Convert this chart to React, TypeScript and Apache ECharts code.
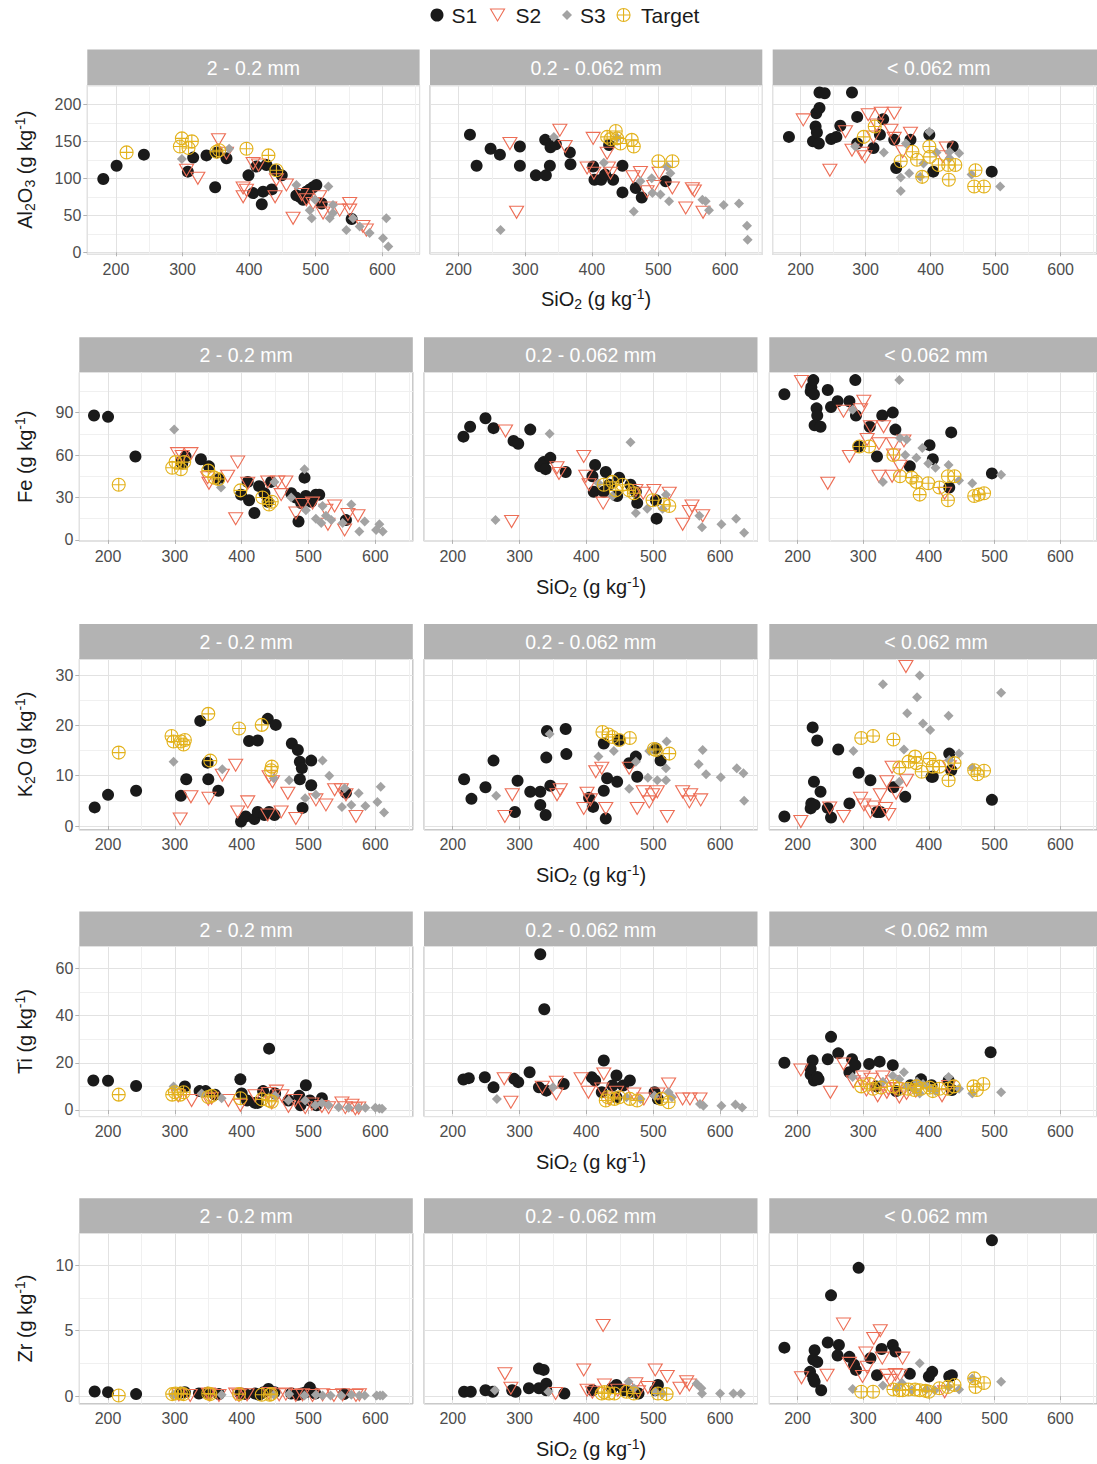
import React, { useEffect, useRef } from 'react';
import * as echarts from 'echarts';

// ---------------- data ----------------
const FRACTIONS = ['2 - 0.2 mm', '0.2 - 0.062 mm', '< 0.062 mm'];
const SERIES_NAMES = ['S1', 'S2', 'S3', 'Target'];
const X_TICK_STEP = 100;

// Al2O3
const AL_C_S1 = [[181,99],[201,117],[242,132],[308,109],[316,128],[336,131],[349,88],[352,135],[366,127],[399,104],[406,80],[411,116],[419,65],[421,82],[426,118],[434,85],[439,111],[449,104],[471,77],[476,75],[481,71],[486,82],[488,80],[491,85],[496,88],[501,91],[509,66],[554,45]];
const AL_C_S2 = [[306,111],[323,100],[354,152],[366,134],[391,87],[391,75],[396,84],[406,120],[414,118],[439,75],[441,98],[456,91],[466,46],[479,78],[486,71],[496,66],[506,75],[511,53],[521,60],[536,57],[551,66],[551,57],[571,35],[576,30]];
const AL_C_S3 = [[299,126],[370,140],[471,91],[491,57],[494,46],[499,71],[519,89],[521,46],[526,64],[526,53],[546,30],[556,46],[566,35],[581,26],[601,19],[606,46],[609,8]];
const AL_C_T = [[216,135],[296,143],[299,154],[309,141],[314,150],[351,136],[355,138],[396,140],[429,131],[441,111]];
const AL_M_S1 = [[217,159],[227,117],[248,140],[262,132],[292,143],[292,117],[316,104],[330,152],[331,104],[337,117],[338,142],[346,146],[367,135],[368,119],[402,116],[404,98],[414,98],[420,105],[426,145],[432,98],[446,117],[446,81],[466,87],[475,74],[511,96]];
const AL_M_S2 = [[277,147],[287,54],[352,165],[360,143],[393,114],[402,154],[403,107],[423,134],[425,114],[428,107],[462,102],[473,108],[483,82],[493,89],[501,107],[521,87],[541,60],[551,86],[554,83],[567,54]];
const AL_M_S3 = [[263,30],[343,156],[418,121],[438,155],[463,55],[473,96],[490,100],[491,80],[503,78],[513,116],[516,69],[518,107],[566,71],[571,69],[576,57],[598,64],[621,66],[633,36],[634,17]];
const AL_M_T = [[423,156],[428,153],[436,164],[438,154],[443,147],[460,152],[463,143],[500,123],[521,123]];
const AL_F_S1 = [[182,156],[219,150],[223,170],[224,188],[225,162],[228,147],[229,195],[229,216],[237,215],[247,153],[255,156],[261,171],[279,216],[287,183],[287,147],[312,141],[322,159],[327,180],[344,152],[347,114],[369,152],[398,159],[404,109],[434,143],[494,109]];
const AL_F_S2 = [[204,179],[245,111],[269,163],[279,138],[294,134],[299,129],[304,186],[312,156],[317,172],[324,188],[339,165],[344,188],[344,154],[357,136],[369,161],[419,129],[424,141]];
const AL_F_S3 = [[284,143],[328,135],[354,101],[354,83],[362,147],[367,107],[384,102],[389,120],[398,163],[409,135],[429,136],[429,127],[444,134],[463,105],[507,89]];
const AL_F_T = [[297,156],[314,170],[354,123],[372,136],[379,125],[387,102],[398,143],[399,129],[412,118],[427,118],[428,98],[438,118],[467,89],[469,111],[482,89]];

// Fe
const FE_C_S1 = [[179,88],[200,87],[241,59],[309,55],[311,54],[316,59],[339,57],[351,52],[366,43],[399,32],[409,41],[411,28],[419,19],[426,38],[434,33],[439,27],[444,41],[474,33],[481,30],[485,13],[489,26],[494,44],[496,31],[504,27],[511,32],[516,32],[556,14]];
const FE_C_S2 = [[304,61],[311,59],[324,61],[349,44],[351,40],[379,45],[391,15],[394,55],[409,40],[439,41],[454,41],[459,32],[466,41],[481,19],[491,25],[506,26],[526,21],[529,11],[539,24],[554,7],[559,18],[574,17]];
const FE_C_S3 = [[299,78],[369,37],[449,41],[474,30],[494,50],[496,21],[511,15],[519,12],[521,24],[526,17],[534,14],[551,12],[564,25],[576,6],[584,13],[601,7],[606,11],[611,6]];
const FE_C_T = [[216,39],[296,51],[301,55],[309,50],[314,55],[350,49],[359,44],[365,43],[398,35],[431,30],[441,25],[445,27]];
const FE_M_S1 = [[216,73],[226,80],[249,86],[261,79],[291,70],[298,68],[316,78],[331,52],[336,55],[339,50],[346,58],[369,48],[409,45],[411,34],[413,53],[426,34],[429,48],[434,39],[446,31],[449,44],[466,39],[474,34],[476,26],[504,28],[505,15]];
const FE_M_S2 = [[279,77],[288,13],[356,51],[359,47],[396,59],[399,45],[404,39],[425,26],[474,35],[485,33],[501,35],[524,33],[544,11],[554,20],[558,24],[574,17]];
const FE_M_S3 = [[264,14],[345,75],[418,40],[439,31],[466,69],[474,19],[491,22],[514,22],[519,32],[569,17],[573,9],[602,11],[624,15],[636,5]];
const FE_M_T = [[426,39],[439,41],[444,35],[454,39],[464,35],[471,33],[499,28],[516,25],[524,24]];
const FE_F_S1 = [[180,103],[220,105],[221,108],[224,113],[225,103],[229,93],[230,88],[226,81],[235,80],[246,106],[251,94],[261,98],[279,98],[288,113],[289,88],[293,66],[310,80],[321,59],[329,88],[345,90],[349,78],[371,52],[401,67],[406,57],[431,37],[434,76],[496,47]];
const FE_F_S2 = [[206,112],[246,40],[270,91],[279,59],[296,92],[301,98],[306,71],[311,80],[324,68],[324,45],[331,80],[344,45],[346,68],[346,60],[356,52],[362,70],[424,33]];
const FE_F_S3 = [[284,92],[330,41],[355,113],[356,72],[364,60],[366,71],[381,58],[390,65],[399,54],[410,51],[430,53],[446,42],[466,40],[510,46]];
const FE_F_T = [[294,66],[309,66],[346,60],[356,45],[374,44],[381,41],[386,32],[399,40],[416,37],[429,45],[429,28],[439,45],[469,31],[476,32],[484,33]];

// K2O
const K_C_S1 = [[180,3.7],[200,6.2],[242,7.0],[309,6.0],[317,9.3],[338,20.9],[349,12.6],[350,9.3],[365,7.0],[399,0.9],[406,1.9],[411,16.9],[419,1.4],[424,17.0],[424,2.8],[434,2.2],[439,21.3],[441,2.8],[449,2.2],[451,20.1],[475,16.4],[484,15.1],[487,12.8],[490,11.5],[487,9.3],[491,3.6],[504,13.0],[504,8.1],[556,6.6]];
const K_C_S2 = [[308,1.4],[324,5.8],[351,5.5],[371,10.1],[391,12.1],[394,2.8],[409,4.8],[439,2.2],[441,9.8],[446,8.8],[459,2.8],[469,6.5],[481,1.5],[511,5.2],[526,4.2],[539,7.2],[549,7.2],[556,6.2],[571,1.9]];
const K_C_S3 = [[298,12.8],[371,11.3],[448,9.5],[471,9.1],[495,5.5],[511,6.2],[521,13.0],[531,10.0],[550,3.8],[554,7.5],[564,4.2],[575,6.5],[585,4.0],[603,4.8],[608,7.8],[613,2.7]];
const K_C_T = [[216,14.6],[295,17.9],[298,16.8],[309,16.8],[313,16.2],[315,17.1],[350,22.3],[353,13.0],[396,19.4],[430,20.1],[444,11.1],[445,11.8]];
const K_M_S1 = [[217,9.3],[228,5.4],[249,7.7],[261,13.0],[293,2.8],[297,9.0],[316,6.8],[331,6.8],[331,4.2],[339,2.2],[340,13.6],[341,18.9],[346,8.0],[369,19.3],[370,14.3],[404,5.6],[410,3.8],[426,16.4],[426,7.0],[429,1.5],[431,9.5],[446,8.8],[449,17.1],[464,12.5],[474,13.8],[476,9.8],[504,15.4],[511,13.0]];
const K_M_S2 = [[278,1.9],[289,6.2],[356,6.2],[361,7.2],[396,3.5],[401,6.5],[406,5.2],[414,10.8],[423,11.5],[429,3.5],[464,11.5],[476,3.5],[485,6.8],[494,4.8],[499,6.2],[506,6.8],[521,1.9],[544,6.8],[554,4.8],[556,6.2],[571,5.2]];
const K_M_S3 = [[265,6.0],[345,18.3],[418,13.8],[441,14.9],[464,7.4],[474,12.8],[492,9.6],[494,14.9],[506,9.1],[519,9.1],[519,11.5],[520,16.8],[568,12.3],[574,15.1],[579,10.3],[601,9.7],[625,11.5],[635,10.5],[636,5.0]];
const K_M_T = [[424,18.7],[433,18.2],[439,17.7],[449,17.1],[465,17.5],[501,15.3],[504,15.1],[524,14.4]];
const K_F_S1 = [[180,1.9],[220,3.5],[221,4.5],[223,19.6],[225,8.8],[226,4.2],[230,17.0],[235,6.8],[246,3.6],[251,1.7],[262,15.2],[279,4.5],[293,10.6],[311,9.1],[321,2.8],[326,2.8],[346,7.7],[364,5.8],[404,9.8],[406,9.8],[431,14.4],[434,11.1],[496,5.2]];
const K_F_S2 = [[205,0.9],[249,3.6],[270,1.9],[296,5.5],[301,4.2],[311,2.8],[316,3.8],[326,6.2],[334,3.5],[336,8.8],[339,2.3],[344,11.7],[350,6.5],[365,31.7],[366,9.1],[431,11.8]];
const K_F_S3 = [[285,14.9],[330,28.2],[355,8.8],[362,15.2],[367,22.4],[382,25.6],[386,29.9],[391,20.4],[402,19.1],[430,21.9],[431,13.1],[446,14.4],[466,11.6],[510,26.5]];
const K_F_T = [[297,17.5],[315,17.9],[346,17.2],[355,11.6],[369,12.8],[379,13.8],[381,12.5],[389,10.8],[401,13.4],[406,11.8],[416,11.8],[430,9.1],[439,12.5],[469,11.1],[474,10.3],[484,11.0]];

// Ti
const TI_C_S1 = [[178,12.5],[200,12.4],[242,10.2],[315,10],[337,8],[346,8],[360,6.5],[398,13],[400,7],[408,4],[420,3],[424,3],[432,8],[441,26],[450,7],[470,4],[486,6],[488,2],[496,10.5],[502,4],[512,2],[520,5]];
const TI_C_S2 = [[305,6],[325,4],[350,4.5],[355,5],[380,4],[398,2],[420,6],[440,7],[445,3],[452,8],[460,6],[470,1.5],[480,4],[495,1],[505,2.5],[520,1.5],[530,1],[550,3],[555,1],[565,2],[570,0.5],[575,0.8]];
const TI_C_S3 = [[298,10],[340,7],[370,5],[450,6],[470,4],[495,4],[510,2],[520,3],[530,2],[545,1.2],[560,1],[575,1],[585,1],[600,1],[606,0.6],[610,0.5]];
const TI_C_T = [[216,6.5],[296,6.5],[300,7.5],[308,6.5],[313,7.5],[350,5.5],[355,6],[398,5],[430,4.5],[441,4],[445,3.5]];
const TI_M_S1 = [[216,12.9],[224,13.5],[248,13.9],[261,9.6],[292,13.2],[298,11.8],[315,16],[329,9.6],[331,66],[337,42.7],[340,8.2],[366,11],[408,13.9],[413,12.5],[423,7.5],[426,21],[439,10.4],[445,14.6],[445,5.4],[455,10.4],[465,12.5],[502,7.5],[507,4.7]];
const TI_M_S2 = [[277,13.2],[287,3.3],[334,9.6],[355,11.8],[355,6.8],[392,13.2],[403,7.5],[423,8.9],[426,15.3],[434,4.7],[445,7.5],[471,6.8],[486,4.7],[507,6.8],[523,11],[544,4.7],[555,4.7],[570,4.7]];
const TI_M_S3 = [[266,4.7],[350,9.6],[460,5.4],[481,4.7],[502,6],[523,7.5],[528,5.4],[570,2.5],[575,1.8],[602,1.8],[623,2.3],[633,1.1]];
const TI_M_T = [[429,4],[432,5.4],[442,4.7],[449,5.4],[465,4.7],[476,4],[512,4.7],[523,3.3]];
const TI_F_S1 = [[180,20],[220,15],[223,21],[220,17.5],[225,12.5],[230,14],[232,13],[246,21.5],[251,31],[262,24],[279,16],[283,21.5],[288,19],[309,19.5],[320,10],[325,20.5],[345,19],[350,8],[372,10.5],[388,13],[404,10.5],[430,12.5],[435,8.5],[494,24.5]];
const TI_F_S2 = [[205,17],[250,7.5],[270,19.5],[285,12],[300,11],[300,14],[305,8.5],[312,13],[322,6],[330,14],[336,7.5],[338,9],[345,12],[350,9],[355,5.5],[366,7],[380,8],[420,6],[430,10]];
const TI_F_S3 = [[284,14],[330,12],[345,14.5],[355,13],[362,16],[367,10],[378,8.5],[382,12],[386,7],[391,11],[398,10],[402,9],[410,8],[430,14],[446,9],[466,7],[510,7.5]];
const TI_F_T = [[297,10],[310,11],[315,9],[327,9.5],[346,10],[355,9],[368,9],[378,8.5],[381,10],[388,9],[401,9.5],[406,8],[416,9],[429,9],[438,10],[468,10],[473,8.5],[483,11]];

// Zr
const ZR_C_S1 = [[180,0.35],[200,0.3],[242,0.15],[308,0.25],[315,0.3],[336,0.2],[349,0.25],[366,0.15],[398,0.2],[406,0.15],[420,0.2],[426,0.1],[433,0.3],[440,0.55],[449,0.3],[474,0.2],[484,0.1],[488,0.15],[490,0.2],[496,0.3],[502,0.65],[510,0.2],[553,0.15]];
const ZR_C_S2 = [[306,0.1],[323,0.05],[350,0.15],[352,0.1],[366,0.05],[391,0.15],[396,0.05],[408,0.1],[441,0.2],[456,0.1],[466,0.15],[481,0.05],[491,0.1],[506,0.05],[521,0.1],[538,0.05],[551,0.1],[571,0.05],[576,0.1]];
const ZR_C_S3 = [[298,0.1],[370,0.1],[448,0.1],[471,0.15],[494,0.05],[511,0.1],[521,0.05],[533,0.05],[549,0.05],[564,0.1],[576,0.05],[584,0.05],[602,0.05],[607,0.05],[611,0.05]];
const ZR_C_T = [[216,0.05],[296,0.15],[301,0.2],[309,0.2],[313,0.15],[350,0.2],[353,0.15],[396,0.15],[430,0.1],[442,0.1],[444,0.15]];
const ZR_M_S1 = [[217,0.33],[227,0.33],[249,0.45],[260,0.33],[289,0.45],[294,0.33],[314,0.6],[329,2.1],[336,2.0],[329,0.6],[340,0.95],[340,0.45],[367,0.2],[409,0.45],[438,0.6],[445,0.85],[456,0.45],[467,0.33],[478,0.2],[503,0.45],[507,0.85]];
const ZR_M_S2 = [[278,1.7],[287,0.6],[354,0.2],[396,2.0],[401,0.45],[409,0.3],[425,5.4],[427,0.85],[447,0.45],[474,0.95],[478,0.33],[492,0.65],[503,2.0],[521,1.5],[540,0.6],[550,1.1],[554,0.85]];
const ZR_M_S3 = [[263,0.45],[343,0.33],[463,1.1],[471,0.6],[503,0.33],[514,0.2],[565,0.95],[572,0.6],[573,0.2],[600,0.2],[620,0.2],[631,0.2]];
const ZR_M_T = [[423,0.2],[427,0.3],[434,0.2],[442,0.2],[460,0.33],[471,0.2],[507,0.2],[520,0.15]];
const ZR_F_S1 = [[180,3.7],[219,1.85],[224,1.35],[226,1.1],[226,3.5],[224,2.8],[230,2.6],[236,0.45],[246,4.1],[251,7.7],[263,3.9],[261,3.1],[279,3.0],[286,2.4],[289,2.0],[293,9.8],[311,2.9],[321,1.6],[328,3.6],[345,3.9],[349,3.4],[371,1.7],[400,1.5],[405,1.85],[431,1.5],[435,1.6],[496,11.9]];
const ZR_F_S2 = [[206,1.4],[245,1.6],[270,5.5],[279,2.5],[299,1.5],[304,3.3],[306,2.2],[316,4.4],[326,5.0],[329,2.9],[336,1.6],[341,1.2],[349,1.65],[356,1.6],[360,2.9],[424,0.33]];
const ZR_F_S3 = [[284,0.55],[330,0.8],[351,0.6],[359,1.0],[374,0.45],[386,2.5],[396,0.5],[409,0.45],[430,0.7],[446,0.5],[466,1.35],[510,1.1]];
const ZR_F_T = [[297,0.33],[315,0.33],[346,0.5],[355,0.45],[360,0.45],[369,0.5],[379,0.5],[386,0.45],[395,0.4],[400,0.33],[416,0.6],[429,0.7],[439,0.85],[469,1.35],[471,0.7],[484,1.0]];

// element rows -> fractions -> series
const PANEL_DATA = [
  [[AL_C_S1, AL_C_S2, AL_C_S3, AL_C_T], [AL_M_S1, AL_M_S2, AL_M_S3, AL_M_T], [AL_F_S1, AL_F_S2, AL_F_S3, AL_F_T]],
  [[FE_C_S1, FE_C_S2, FE_C_S3, FE_C_T], [FE_M_S1, FE_M_S2, FE_M_S3, FE_M_T], [FE_F_S1, FE_F_S2, FE_F_S3, FE_F_T]],
  [[K_C_S1, K_C_S2, K_C_S3, K_C_T], [K_M_S1, K_M_S2, K_M_S3, K_M_T], [K_F_S1, K_F_S2, K_F_S3, K_F_T]],
  [[TI_C_S1, TI_C_S2, TI_C_S3, TI_C_T], [TI_M_S1, TI_M_S2, TI_M_S3, TI_M_T], [TI_F_S1, TI_F_S2, TI_F_S3, TI_F_T]],
  [[ZR_C_S1, ZR_C_S2, ZR_C_S3, ZR_C_T], [ZR_M_S1, ZR_M_S2, ZR_M_S3, ZR_M_T], [ZR_F_S1, ZR_F_S2, ZR_F_S3, ZR_F_T]],
];

// y-axis titles (rich text: s = subscript, p = superscript)
const Y_TITLES = [
  '{a|Al}{s|2}{a|O}{s|3}{a| (g kg}{p|-1}{a|)}',
  '{a|Fe (g kg}{p|-1}{a|)}',
  '{a|K}{s|2}{a|O (g kg}{p|-1}{a|)}',
  '{a|Ti (g kg}{p|-1}{a|)}',
  '{a|Zr (g kg}{p|-1}{a|)}',
];
const X_TITLE = '{a|SiO}{s|2}{a| (g kg}{p|-1}{a|)}';

// axis extents & tick steps
const X_RANGE = [157, 656];
const Y_RANGES = [[-2.7, 226], [-1, 118.5], [-0.75, 33.2], [-2.8, 69.3], [-0.59, 12.44]];
const Y_TICK_STEPS = [50, 30, 10, 20, 5];

// ---------------- layout / style ----------------
const FONT = '"Liberation Sans", Arial, Helvetica, sans-serif';
const ROW_LAYOUT = [
  { stripTop: 49.5, top: 85.1, bottom: 254.3, lefts: [87.3, 430.0, 772.7], width: 332.3, titleX: 596, titleY: 299 },
  { stripTop: 337.3, top: 372.3, bottom: 541.3, lefts: [79.3, 424.0, 769.3], width: 333.5, titleX: 591, titleY: 587 },
  { stripTop: 624.0, top: 659.0, bottom: 829.8, lefts: [79.3, 424.0, 769.3], width: 333.5, titleX: 591, titleY: 875 },
  { stripTop: 911.5, top: 946.5, bottom: 1116.6, lefts: [79.3, 424.0, 769.3], width: 333.5, titleX: 591, titleY: 1162 },
  { stripTop: 1198.3, top: 1233.3, bottom: 1403.8, lefts: [79.3, 424.0, 769.3], width: 333.5, titleX: 591, titleY: 1449 },
];
const S1_COLOR = '#1a1a1a';
const S2_COLOR = '#ed6e56';
const S3_COLOR = '#a3a3a3';
const T_COLOR = '#e3b21c';
const TARGET_SYMBOL = 'path://M6.5,0A6.5,6.5,0,1,1,6.5,13A6.5,6.5,0,1,1,6.5,0ZM6.5,0L6.5,13M0,6.5L13,6.5';
const DOWN_TRIANGLE = 'path://M0,0L14,0L7,12Z';
const SERIES_STYLE: any[] = [
  { symbol: 'circle', symbolSize: 12, itemStyle: { color: S1_COLOR, opacity: 1 } },
  { symbol: 'triangle', symbolSize: [14, 12], symbolRotate: 180, itemStyle: { color: 'rgba(0,0,0,0)', borderColor: S2_COLOR, borderWidth: 1.1, opacity: 1 } },
  { symbol: 'diamond', symbolSize: 10, itemStyle: { color: S3_COLOR, opacity: 1 } },
  { symbol: TARGET_SYMBOL, symbolSize: 13, itemStyle: { color: 'rgba(0,0,0,0)', borderColor: T_COLOR, borderWidth: 1.1, opacity: 1 } },
];
// legend entries: icon centre x, text offset padding, icon size
const LEGEND_LAYOUT = [
  { cx: 437, pad: 3, w: 13, h: 13, icon: 'circle', style: { color: S1_COLOR, borderWidth: 0 } },
  { cx: 497, pad: 6, w: 14, h: 12, icon: DOWN_TRIANGLE, style: { color: 'rgba(0,0,0,0)', borderColor: S2_COLOR, borderWidth: 1.1 } },
  { cx: 567, pad: 3, w: 10, h: 10, icon: 'diamond', style: { color: S3_COLOR, borderWidth: 0 } },
  { cx: 623, pad: 6, w: 13, h: 13, icon: TARGET_SYMBOL, style: { color: 'rgba(0,0,0,0)', borderColor: T_COLOR, borderWidth: 1.1 } },
];

const RICH = (size: number) => ({
  a: { fontSize: size, lineHeight: 24, fontFamily: FONT, fill: '#1a1a1a', color: '#1a1a1a', verticalAlign: 'middle' },
  s: { fontSize: 14, lineHeight: 14, fontFamily: FONT, fill: '#1a1a1a', color: '#1a1a1a', verticalAlign: 'bottom' },
  p: { fontSize: 14, lineHeight: 14, fontFamily: FONT, fill: '#1a1a1a', color: '#1a1a1a', verticalAlign: 'top' },
});

function buildOption() {
  const grid: any[] = [];
  const xAxis: any[] = [];
  const yAxis: any[] = [];
  const series: any[] = [];
  const graphic: any[] = [];

  ROW_LAYOUT.forEach((row, r) => {
    const [ymin, ymax] = Y_RANGES[r];
    const step = Y_TICK_STEPS[r];
    row.lefts.forEach((left, c) => {
      const g = grid.length;
      grid.push({
        left, top: row.top, width: row.width, height: row.bottom - row.top,
        show: true, borderColor: '#b3b3b3', borderWidth: 1, backgroundColor: '#ffffff', containLabel: false,
      });
      xAxis.push({
        gridIndex: g, type: 'value', min: X_RANGE[0], max: X_RANGE[1],
        minInterval: X_TICK_STEP, maxInterval: X_TICK_STEP, splitNumber: 5,
        axisLine: { show: false },
        axisTick: { show: true, length: 4, lineStyle: { color: '#b3b3b3', width: 1 } },
        axisLabel: { show: true, color: '#4d4d4d', fontSize: 16, fontFamily: FONT, margin: 7, showMinLabel: false, showMaxLabel: false },
        splitLine: { show: true, lineStyle: { color: '#e2e2e2', width: 1 } },
        minorTick: { show: false, splitNumber: 2 },
        minorSplitLine: { show: true, lineStyle: { color: '#f0f0f0', width: 1 } },
      });
      yAxis.push({
        gridIndex: g, type: 'value', min: ymin, max: ymax,
        minInterval: step, maxInterval: step, splitNumber: 5,
        axisLine: { show: false },
        axisTick: { show: c === 0, length: 4, lineStyle: { color: '#b3b3b3', width: 1 } },
        axisLabel: { show: c === 0, color: '#4d4d4d', fontSize: 16, fontFamily: FONT, margin: 6, showMinLabel: false, showMaxLabel: false },
        splitLine: { show: true, lineStyle: { color: '#e2e2e2', width: 1 } },
        minorTick: { show: false, splitNumber: 2 },
        minorSplitLine: { show: true, lineStyle: { color: '#f0f0f0', width: 1 } },
      });
      PANEL_DATA[r][c].forEach((data, s) => {
        series.push({
          type: 'scatter', name: SERIES_NAMES[s], xAxisIndex: g, yAxisIndex: g,
          data, silent: true, emphasis: { disabled: true }, z: 2 + s,
          ...SERIES_STYLE[s],
        });
      });
      // facet strip
      graphic.push({
        type: 'rect', silent: true,
        shape: { x: left, y: row.stripTop, width: row.width, height: row.top - row.stripTop },
        style: { fill: '#b3b3b3' },
      });
      graphic.push({
        type: 'text', silent: true, x: left + row.width / 2, y: row.stripTop + (row.top - row.stripTop) / 2 + 0.5,
        style: {
          text: FRACTIONS[c], fill: '#ffffff', fontSize: 19.5, fontFamily: FONT,
          align: 'center', verticalAlign: 'middle', textAlign: 'center', textVerticalAlign: 'middle',
        },
      });
    });
    // y title
    graphic.push({
      type: 'text', silent: true, x: 25, y: (row.top + row.bottom) / 2, rotation: Math.PI / 2,
      style: {
        text: Y_TITLES[r], rich: RICH(20), fill: '#1a1a1a',
        align: 'center', verticalAlign: 'middle', textAlign: 'center', textVerticalAlign: 'middle',
      },
    });
    // x title
    graphic.push({
      type: 'text', silent: true, x: row.titleX, y: row.titleY,
      style: {
        text: X_TITLE, rich: RICH(20), fill: '#1a1a1a',
        align: 'center', verticalAlign: 'middle', textAlign: 'center', textVerticalAlign: 'middle',
      },
    });
  });

  const legend = SERIES_NAMES.map((name, s) => {
    const L = LEGEND_LAYOUT[s];
    return {
      data: [{ name, icon: L.icon, itemStyle: L.style }],
      top: 15 - 11, left: L.cx - L.w / 2, itemWidth: L.w, itemHeight: L.h,
      selectedMode: false, padding: 0,
      textStyle: { fontSize: 21, color: '#1a1a1a', fontFamily: FONT, padding: [0, 0, 0, L.pad], lineHeight: 22 },
    };
  });

  return {
    animation: false,
    backgroundColor: '#ffffff',
    textStyle: { fontFamily: FONT },
    legend,
    grid, xAxis, yAxis, series, graphic,
  };
}

export default function App() {
  const ref = useRef<HTMLDivElement>(null);
  useEffect(() => {
    if (!ref.current) return;
    const chart = echarts.init(ref.current, null, { renderer: 'svg', width: 1097, height: 1464 });
    chart.setOption(buildOption() as any);
    return () => chart.dispose();
  }, []);
  return (
    <div
      ref={ref}
      style={{ position: 'absolute', left: 0, top: 0, width: 1097, height: 1464, background: '#ffffff', overflow: 'hidden' }}
    />
  );
}
